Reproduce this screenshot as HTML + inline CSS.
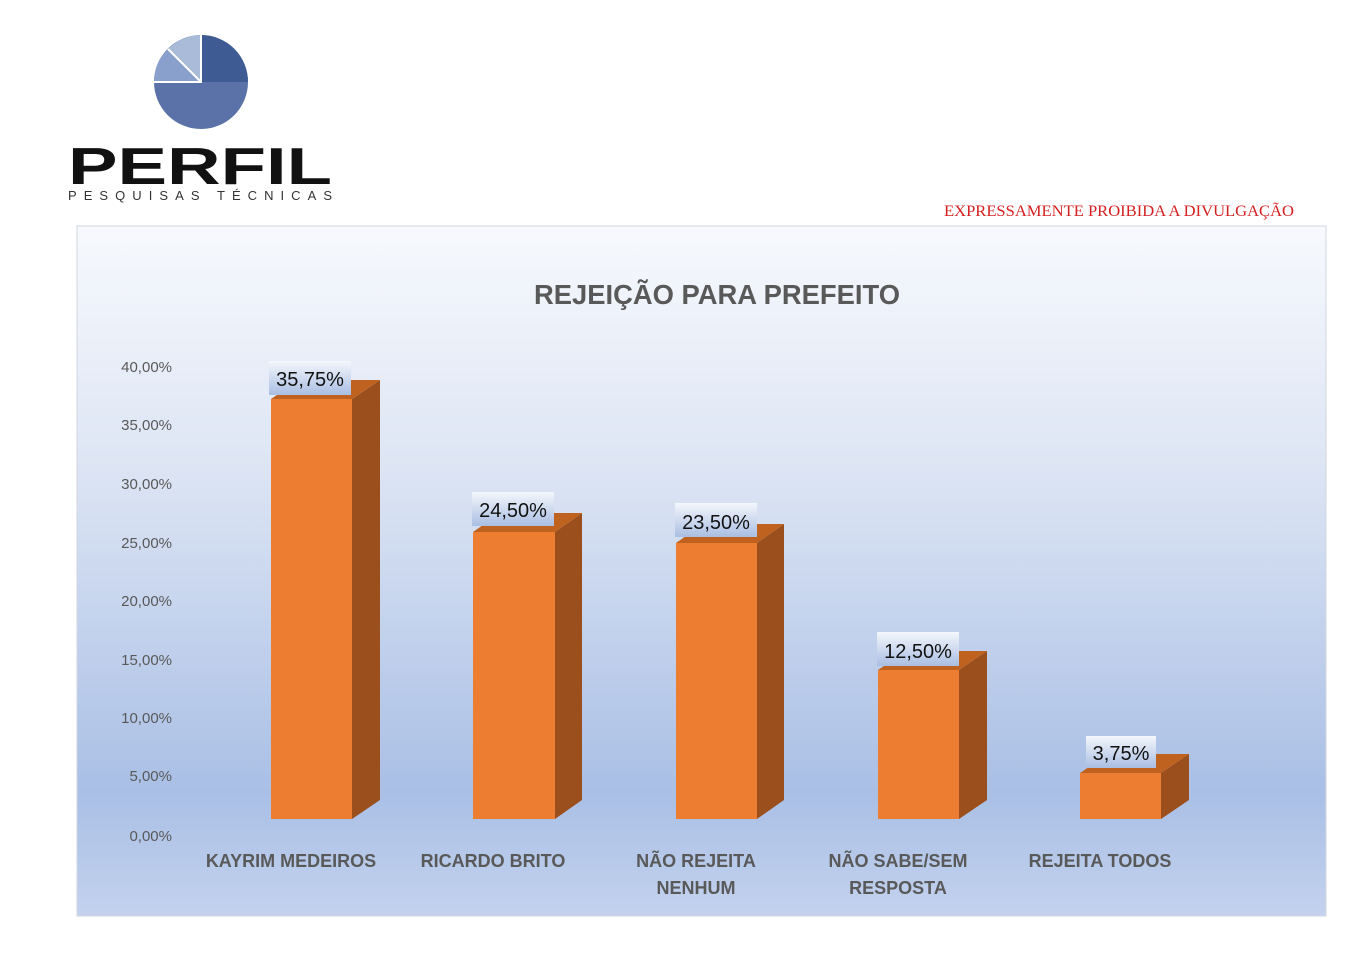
<!DOCTYPE html>
<html><head><meta charset="utf-8"><style>
body{margin:0;background:#fff;}
svg{display:block;font-family:"Liberation Sans",sans-serif;}
</style></head><body>
<svg width="1346" height="968" viewBox="0 0 1346 968">
<defs>
<linearGradient id="bg" x1="0" y1="0" x2="0" y2="1">
<stop offset="0" stop-color="#f7f9fd"/>
<stop offset="0.35" stop-color="#dde5f4"/>
<stop offset="0.82" stop-color="#a9bfe5"/>
<stop offset="1" stop-color="#c3d2ee"/>
</linearGradient>
<linearGradient id="lb" x1="0" y1="0" x2="0" y2="1">
<stop offset="0" stop-color="#f4f7fc"/>
<stop offset="1" stop-color="#a9bee2"/>
</linearGradient>
</defs>
<rect width="1346" height="968" fill="#fff"/>
<circle cx="201" cy="82" r="47" fill="#5b72a8"/>
<path d="M201 82 L201 35 A47 47 0 0 1 248 82 Z" fill="#3f5b93"/>
<path d="M201 82 L154 82 A47 47 0 0 1 168 49 Z" fill="#8aa0cc"/>
<path d="M201 82 L168 49 A47 47 0 0 1 201 35 Z" fill="#a9bbd8"/>
<path d="M201 35 L201 82 L154 82 M201 82 L168 49" stroke="#fff" stroke-width="2" fill="none"/>
<text x="68" y="184" font-size="52" font-weight="bold" fill="#111" textLength="264" lengthAdjust="spacingAndGlyphs">PERFIL</text>
<text x="68" y="200" font-size="13" fill="#333" textLength="264" lengthAdjust="spacing">PESQUISAS TÉCNICAS</text>
<text x="944" y="216" font-size="16" fill="#d42020" textLength="350" lengthAdjust="spacingAndGlyphs" font-family="Liberation Serif">EXPRESSAMENTE PROIBIDA A DIVULGAÇÃO</text>
<rect x="77" y="226" width="1249" height="690" fill="url(#bg)" stroke="#d0d6e0"/>
<text x="534" y="304" font-size="28" font-weight="bold" fill="#595959" textLength="366" lengthAdjust="spacingAndGlyphs">REJEIÇÃO PARA PREFEITO</text>
<g font-size="15" fill="#595959" text-anchor="end">
<text x="172" y="372">40,00%</text><text x="172" y="430">35,00%</text><text x="172" y="489">30,00%</text>
<text x="172" y="548">25,00%</text><text x="172" y="606">20,00%</text><text x="172" y="665">15,00%</text>
<text x="172" y="723">10,00%</text><text x="172" y="781">5,00%</text><text x="172" y="841">0,00%</text>
</g>
<g>
<polygon points="352,399 380,380 380,800 352,819" fill="#9a4f1d"/>
<polygon points="271,399 299,380 380,380 352,399" fill="#c0621f"/>
<rect x="271" y="399" width="81" height="420" fill="#ed7d31"/>
<rect x="269" y="361" width="82" height="34" fill="url(#lb)"/>
<text x="310" y="386" font-size="20" fill="#111" text-anchor="middle">35,75%</text>
</g>
<g>
<polygon points="555,532 582,513 582,800 555,819" fill="#9a4f1d"/>
<polygon points="473,532 500,513 582,513 555,532" fill="#c0621f"/>
<rect x="473" y="532" width="82" height="287" fill="#ed7d31"/>
<rect x="472" y="492" width="82" height="34" fill="url(#lb)"/>
<text x="513" y="517" font-size="20" fill="#111" text-anchor="middle">24,50%</text>
</g>
<g>
<polygon points="757,543 784,524 784,800 757,819" fill="#9a4f1d"/>
<polygon points="676,543 703,524 784,524 757,543" fill="#c0621f"/>
<rect x="676" y="543" width="81" height="276" fill="#ed7d31"/>
<rect x="675" y="503" width="82" height="34" fill="url(#lb)"/>
<text x="716" y="529" font-size="20" fill="#111" text-anchor="middle">23,50%</text>
</g>
<g>
<polygon points="959,670 987,651 987,800 959,819" fill="#9a4f1d"/>
<polygon points="878,670 906,651 987,651 959,670" fill="#c0621f"/>
<rect x="878" y="670" width="81" height="149" fill="#ed7d31"/>
<rect x="877" y="632" width="82" height="34" fill="url(#lb)"/>
<text x="918" y="658" font-size="20" fill="#111" text-anchor="middle">12,50%</text>
</g>
<g>
<polygon points="1161,773 1189,754 1189,800 1161,819" fill="#9a4f1d"/>
<polygon points="1080,773 1108,754 1189,754 1161,773" fill="#c0621f"/>
<rect x="1080" y="773" width="81" height="46" fill="#ed7d31"/>
<rect x="1086" y="736" width="70" height="32" fill="url(#lb)"/>
<text x="1121" y="760" font-size="20" fill="#111" text-anchor="middle">3,75%</text>
</g>
<g font-size="18" font-weight="bold" fill="#595959" text-anchor="middle">
<text x="291" y="867">KAYRIM MEDEIROS</text>
<text x="493" y="867">RICARDO BRITO</text>
<text x="696" y="867">NÃO REJEITA</text><text x="696" y="894">NENHUM</text>
<text x="898" y="867">NÃO SABE/SEM</text><text x="898" y="894">RESPOSTA</text>
<text x="1100" y="867">REJEITA TODOS</text>
</g>
</svg>
</body></html>
